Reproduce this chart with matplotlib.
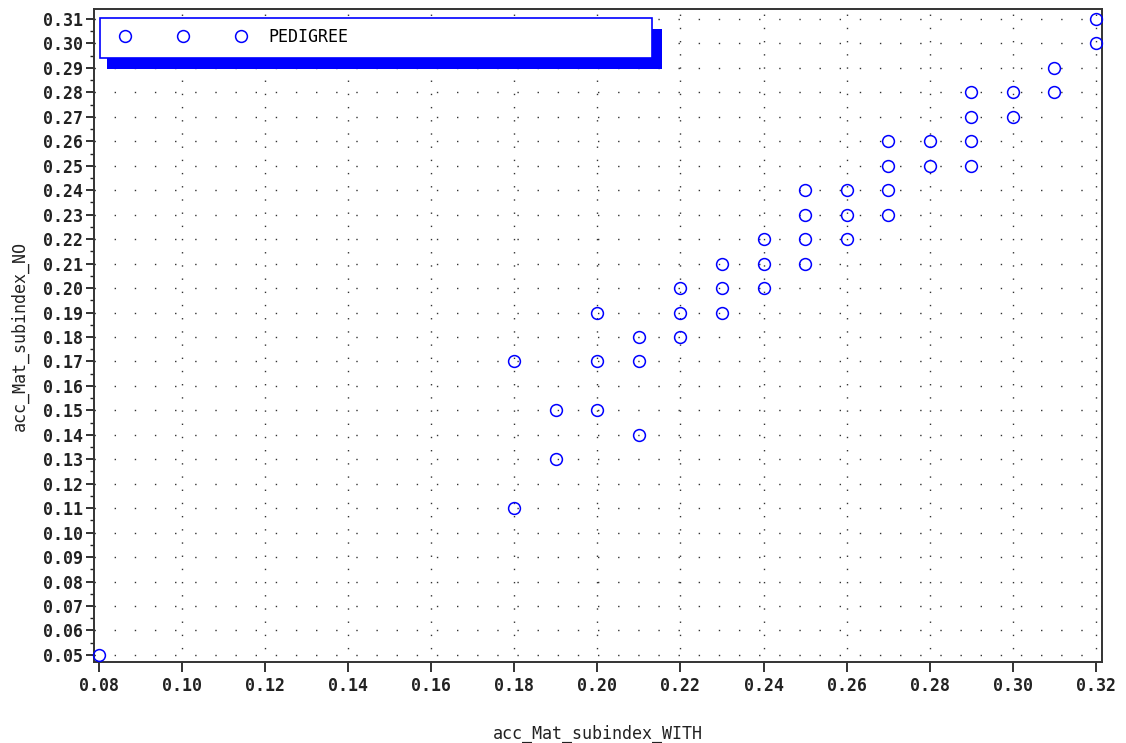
import matplotlib
matplotlib.use("Agg")
import matplotlib.pyplot as plt
from matplotlib.patches import Rectangle
from matplotlib.lines import Line2D
import numpy as np

# Data
x_with = [0.08,
          0.18, 0.18,
          0.19, 0.19,
          0.20, 0.20, 0.20,
          0.21, 0.21, 0.21,
          0.22, 0.22, 0.22,
          0.23, 0.23, 0.23,
          0.24, 0.24, 0.24,
          0.25, 0.25, 0.25, 0.25,
          0.26, 0.26, 0.26,
          0.27, 0.27, 0.27, 0.27,
          0.28, 0.28,
          0.29, 0.29, 0.29, 0.29,
          0.30, 0.30,
          0.31, 0.31,
          0.32, 0.32]
y_no = [0.05,
        0.17, 0.11,
        0.15, 0.13,
        0.19, 0.17, 0.15,
        0.18, 0.17, 0.14,
        0.20, 0.19, 0.18,
        0.21, 0.20, 0.19,
        0.22, 0.21, 0.20,
        0.24, 0.23, 0.22, 0.21,
        0.24, 0.23, 0.22,
        0.26, 0.25, 0.24, 0.23,
        0.26, 0.25,
        0.28, 0.27, 0.26, 0.25,
        0.28, 0.27,
        0.29, 0.28,
        0.31, 0.30]
xticks = [0.08, 0.10, 0.12, 0.14, 0.16, 0.18, 0.20, 0.22, 0.24, 0.26, 0.28, 0.30, 0.32]
yticks = [round(0.05 + 0.01 * i, 2) for i in range(27)]
series_name = "PEDIGREE"

W, H = 1126, 743
fig = plt.figure(figsize=(W / 100, H / 100), dpi=100)
L, R, B, T = 94, 1102, 662, 9
ax = fig.add_axes([L / W, (H - B) / H, (R - L) / W, (B - T) / H])

blue = "#0000ff"
ax.plot(x_with, y_no, linestyle="none", marker="o", markersize=8.5,
        markerfacecolor="none", markeredgecolor=blue, markeredgewidth=1.1,
        clip_on=False, zorder=3)

ax.set_xlim(0.08 - 0.0012, 0.32 + 0.0015)
ax.set_ylim(0.05 - 0.0029, 0.31 + 0.0041)

ax.set_xticks(xticks)
ax.set_xticklabels([f"{v:.2f}" for v in xticks])
ax.set_yticks(yticks)
ax.set_yticklabels([f"{v:.2f}" for v in yticks])
ax.set_yticks([round(0.055 + 0.01 * i, 3) for i in range(26)], minor=True)

for lab in ax.get_xticklabels() + ax.get_yticklabels():
    lab.set_fontfamily("DejaVu Sans Mono")
    lab.set_fontweight("bold")
    lab.set_fontsize(12)

ax.tick_params(axis="x", which="major", direction="out", length=7.5, width=1.3,
               pad=3, colors="#222222")
ax.tick_params(axis="y", which="major", direction="out", length=6, width=1.3,
               pad=2, colors="#222222")
ax.tick_params(axis="y", which="minor", direction="out", length=3, width=1.0,
               colors="#222222")

for sp in ax.spines.values():
    sp.set_linewidth(1.4)
    sp.set_color("#333333")

# dotted grid
for xv in xticks[1:]:
    ax.axvline(xv, color="#333333", linestyle=(0, (1, 8.5)), linewidth=1.0, zorder=1)
for yv in yticks:
    ax.axhline(yv, color="#333333", linestyle=(0, (1, 13.5)), linewidth=1.0, zorder=1)

ax.set_xlabel("acc_Mat_subindex_WITH", family="DejaVu Sans Mono", fontsize=12,
              labelpad=22, color="#222222")
ax.set_ylabel("acc_Mat_subindex_NO", family="DejaVu Sans Mono", fontsize=12,
              labelpad=10, color="#222222")

# Legend (drawn manually, SAS-style with solid shadow)
def px(x, y):
    return x / W, (H - y) / H

sx0, sy0 = px(107, 69)
fig.add_artist(Rectangle((sx0, sy0), (662 - 107) / W, (69 - 29) / H,
                         transform=fig.transFigure, facecolor=blue,
                         edgecolor="none", zorder=5))
bx0, by0 = px(100, 58)
fig.add_artist(Rectangle((bx0, by0), (652 - 100) / W, (58 - 18) / H,
                         transform=fig.transFigure, facecolor="white",
                         edgecolor=blue, linewidth=1.2, zorder=6))
for mx in (125, 183, 241):
    fx, fy = px(mx, 36)
    fig.add_artist(Line2D([fx], [fy], transform=fig.transFigure, marker="o",
                          markersize=8.5, markerfacecolor="none",
                          markeredgecolor=blue, markeredgewidth=1.1,
                          linestyle="none", zorder=7))
tx, ty = px(268, 37)
fig.text(tx, ty, series_name, family="DejaVu Sans Mono", fontsize=12,
         va="center", ha="left", zorder=8)

fig.savefig("out.png", dpi=100)
